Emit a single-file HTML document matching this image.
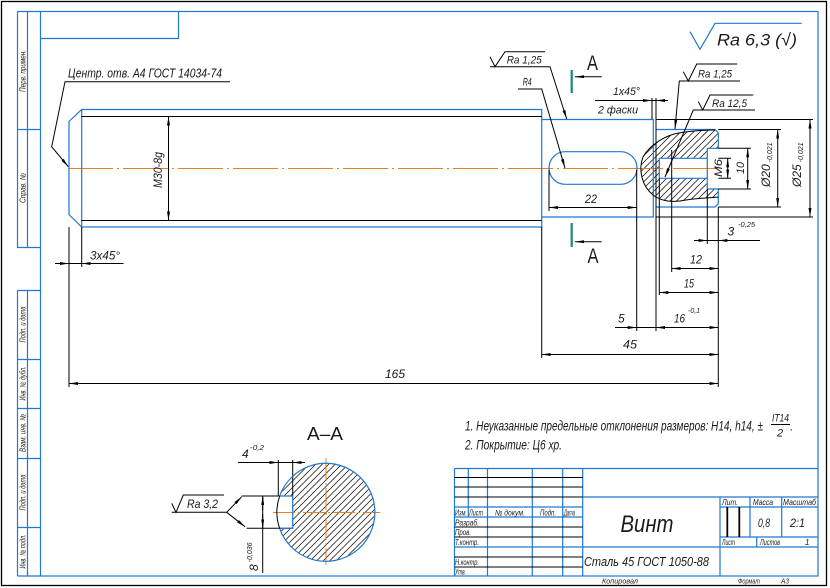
<!DOCTYPE html>
<html><head><meta charset="utf-8"><style>
html,body{margin:0;padding:0;background:#fff}
svg{display:block}
.b{stroke:#1f78d2;fill:none;stroke-width:1.2}
.k{stroke:#000;fill:none;stroke-width:1}
.o{stroke:#e8821e;fill:none;stroke-width:1}
text{font-family:"Liberation Sans",sans-serif;font-style:italic;fill:#1a1a1a}
.u{font-style:normal}
</style></head><body>
<svg width="830" height="588" viewBox="0 0 830 588" xmlns="http://www.w3.org/2000/svg">
<defs>
<marker id="a" viewBox="0 0 9 3" refX="9" refY="1.5" markerWidth="9" markerHeight="3" markerUnits="userSpaceOnUse" orient="auto-start-reverse"><path d="M0,0 L9,1.5 L0,3z" fill="#000"/></marker>
<pattern id="h" width="6.5" height="6.5" patternUnits="userSpaceOnUse"><path d="M-1,1 L1,-1 M0,6.5 L6.5,0 M5.5,7.5 L7.5,5.5" stroke="#000" stroke-width="0.7"/></pattern>
</defs>

<!-- frames -->
<rect x="1.5" y="1.5" width="825" height="584" fill="none" stroke="#000" stroke-width="1.3"/>
<rect x="40.5" y="11.5" width="777.5" height="564.5" class="b"/>
<path class="b" d="M40.5,38.5 H178.5 V11.5"/>
<path class="b" d="M17.5,11.5 V247.5 H40.5 M27.5,11.5 V247.5 M17.5,11.5 H40.5 M17.5,129.5 H40.5"/>
<path class="b" d="M17.5,290.5 V576 M27.5,290.5 V576 M17.5,290.5 H40.5 M17.5,359.5 H40.5 M17.5,408.5 H40.5 M17.5,458.5 H40.5 M17.5,527.5 H40.5 M17.5,576 H40.5"/>
<g font-size="8">
<text transform="translate(25.5,71) rotate(-90)" text-anchor="middle" textLength="42" lengthAdjust="spacingAndGlyphs">Перв. примен.</text>
<text transform="translate(25.5,188) rotate(-90)" text-anchor="middle" textLength="30" lengthAdjust="spacingAndGlyphs">Справ. №</text>
<text transform="translate(25.5,324.5) rotate(-90)" text-anchor="middle" textLength="36" lengthAdjust="spacingAndGlyphs">Подп. и дата</text>
<text transform="translate(25.5,383.5) rotate(-90)" text-anchor="middle" textLength="34" lengthAdjust="spacingAndGlyphs">Инв. № дубл.</text>
<text transform="translate(25.5,433) rotate(-90)" text-anchor="middle" textLength="38" lengthAdjust="spacingAndGlyphs">Взам. инв. №</text>
<text transform="translate(25.5,492.5) rotate(-90)" text-anchor="middle" textLength="36" lengthAdjust="spacingAndGlyphs">Подп. и дата</text>
<text transform="translate(25.5,551.5) rotate(-90)" text-anchor="middle" textLength="34" lengthAdjust="spacingAndGlyphs">Инв. № подл.</text>
</g>

<!-- hatch areas -->
<path d="M680,132.7 C665,135 650,145 643,157 C638,170 642,186 653,195 C661,201 672,203 686,200 C698,198 710,198 718.3,197 V189 H707.3 V178.3 H659.3 V158.3 H707.3 V148.3 H718.3 V133 L715,130 C703,130 692,131 680,132.7Z" fill="url(#h)"/>
<path d="M279.7,496 A49,49 0 1 1 279.7,528.6 H292.7 V496 Z" fill="url(#h)"/>

<!-- centerlines -->
<line class="o" x1="65" y1="168.5" x2="722" y2="168.5" stroke-dasharray="45 4 2 4" stroke-dashoffset="-3"/>
<path class="o" d="M273,512.5 H380 M326,458 V565" stroke-dasharray="22 3 2 3"/>

<!-- shaft contour -->
<path class="b" d="M81.7,109.5 H541.7 V119.5 H653.3 V217 H541.7 V227 H81.7 L69,214.5 V121.5 Z M81.7,109.5 V227 M541.7,109.5 V227"/>
<path class="b" d="M656,129.5 H715 L718.3,132.8 V148.3 H707.3 V189 H718.3 V203.7 L715,207 H656 M659.3,158.3 H707.3 M659.3,178.3 H707.3 M659.3,158.3 V178.3"/>
<path class="k" d="M81.7,116.5 H541.7 M81.7,220.5 H541.7"/>
<rect class="b" x="549" y="151.7" width="88" height="32.6" rx="16.3" stroke-width="1"/>
<path class="k" stroke-width="0.8" d="M680,132.7 C665,135 650,145 643,157 C638,170 642,186 653,195 C661,201 672,203 686,200 C698,198 710,198 718.3,197 M680,132.7 C692,131 703,130 715,130"/>

<!-- extension lines -->
<path class="k" d="M69,227 V387 M81.7,227 V267 M541.7,227 V358 M549,170 V211 M636.7,170 V331 M652,98 V119 M656,98 V331 M659.3,178.3 V295 M671.7,150 V272 M707.3,189 V244 M718.3,207 V387 M656,119.5 H813 M656,217 H813 M718.3,129.5 H781 M718.3,207 H781 M718.3,148.3 H751 M718.3,189 H751 M718.3,158.3 H731 M718.3,178.3 H731"/>

<!-- dimension lines -->
<g class="k">
<line x1="168.5" y1="116.5" x2="168.5" y2="220.5" marker-start="url(#a)" marker-end="url(#a)"/>
<path d="M55,263.5 H123.5"/><path d="M55,263.5 H69" marker-end="url(#a)"/><path d="M100,263.5 H81.7" marker-end="url(#a)"/>
<line x1="69" y1="383.5" x2="718.3" y2="383.5" marker-start="url(#a)" marker-end="url(#a)"/>
<line x1="541.7" y1="354.5" x2="718.3" y2="354.5" marker-start="url(#a)" marker-end="url(#a)"/>
<path d="M615,327.5 H718.3"/><path d="M615,327.5 H636.7" marker-end="url(#a)"/>
<line x1="656" y1="327.5" x2="718.3" y2="327.5" marker-start="url(#a)" marker-end="url(#a)"/>
<line x1="659.3" y1="292.5" x2="718.3" y2="292.5" marker-start="url(#a)" marker-end="url(#a)"/>
<line x1="671.7" y1="268.5" x2="718.3" y2="268.5" marker-start="url(#a)" marker-end="url(#a)"/>
<path d="M694,240.5 H760"/><path d="M694,240.5 H707.3" marker-end="url(#a)"/><path d="M760,240.5 H718.3" marker-end="url(#a)"/>
<line x1="549" y1="207.5" x2="636.7" y2="207.5" marker-start="url(#a)" marker-end="url(#a)"/>
<line x1="777.7" y1="129.5" x2="777.7" y2="207" marker-start="url(#a)" marker-end="url(#a)"/>
<line x1="810" y1="119.5" x2="810" y2="217" marker-start="url(#a)" marker-end="url(#a)"/>
<line x1="747.7" y1="148.3" x2="747.7" y2="189" marker-start="url(#a)" marker-end="url(#a)"/>
<line x1="727.7" y1="158.3" x2="727.7" y2="178.3" marker-start="url(#a)" marker-end="url(#a)"/>
<path d="M595,100.5 H668"/><path d="M640,100.5 H652" marker-end="url(#a)"/><path d="M668,100.5 H656" marker-end="url(#a)"/>
<path d="M238,462.5 H305"/><path d="M265,462.5 H278.3" marker-end="url(#a)"/><path d="M305,462.5 H292.7" marker-end="url(#a)"/>
<path d="M262.7,496 V573"/><path d="M262.7,510 V496" marker-end="url(#a)"/><path d="M262.7,514 V528.3" marker-end="url(#a)"/>
<path d="M278.3,460 V496 M292.7,460 V496 M241.7,496 H292.7 M246.7,528.3 H292.7"/>
<!-- leaders -->
<path d="M230,81.7 H65 L51.7,146.7 L68.3,166.7" marker-end="url(#a)"/>
<path d="M490,66.7 H550 L566.7,119" marker-end="url(#a)"/>
<path d="M518,89 H541.7 L565,168" marker-end="url(#a)"/>
<path d="M740,81 H679.3 L675,129" marker-end="url(#a)"/>
<path d="M755,110 H693.3 L665,177" marker-end="url(#a)"/>
<path d="M171.7,512.3 H226.7 L241.7,496.7" marker-end="url(#a)"/>
<path d="M226.7,512.3 L245,526.7" marker-end="url(#a)"/>
<!-- roughness signs -->
<path d="M490,56.7 L495,66.7 L505,51.7 H545"/>
<path d="M683.3,71.7 L688.3,81 L696.7,64 H737.3"/>
<path d="M698.3,101.7 L702.7,110 L710,95 H753.3"/>
<path d="M171.7,503.3 L176,512.3 L183.3,495 H224"/>
<!-- section arrows -->
<path d="M601.7,76.7 H575" marker-end="url(#a)"/>
<path d="M601.7,241.7 H575" marker-end="url(#a)"/>
</g>
<path class="b" d="M690,31.7 L700,49.3 L715,23.3 H801.7"/>
<path d="M571.7,70 V93 M571.7,223 V247" stroke="#16897c" stroke-width="2.2"/>

<!-- section A-A -->
<path class="b" d="M279.7,496 A49,49 0 1 1 279.7,528.6 M279.7,496 H292.7 V528.3 H279.7"/>
<path class="k" d="M279.7,496 A49,49 0 0 0 279.7,528.6"/>

<!-- texts -->
<text x="68" y="77.5" font-size="13" textLength="154" lengthAdjust="spacingAndGlyphs">Центр. отв. А4 ГОСТ 14034-74</text>
<text x="90" y="259.5" font-size="12" textLength="30" lengthAdjust="spacingAndGlyphs">3x45°</text>
<text transform="translate(162,170) rotate(-90)" text-anchor="middle" font-size="12" textLength="36" lengthAdjust="spacingAndGlyphs">M30-8g</text>
<text x="506.7" y="63.5" font-size="11" textLength="35" lengthAdjust="spacingAndGlyphs">Ra 1,25</text>
<text x="522.7" y="85.5" font-size="11" textLength="9" lengthAdjust="spacingAndGlyphs">R4</text>
<text class="u" x="592.5" y="70" font-size="21" text-anchor="middle" textLength="11" lengthAdjust="spacingAndGlyphs">А</text>
<text class="u" x="593" y="263" font-size="21" text-anchor="middle" textLength="11" lengthAdjust="spacingAndGlyphs">А</text>
<text x="613" y="95" font-size="11" textLength="27" lengthAdjust="spacingAndGlyphs">1x45°</text>
<text x="598" y="113.5" font-size="11" textLength="40" lengthAdjust="spacingAndGlyphs">2 фаски</text>
<text x="698" y="77.5" font-size="11" textLength="34" lengthAdjust="spacingAndGlyphs">Ra 1,25</text>
<text x="712" y="107" font-size="11" textLength="35" lengthAdjust="spacingAndGlyphs">Ra 12,5</text>
<text x="717" y="45.5" font-size="17" textLength="80" lengthAdjust="spacingAndGlyphs">Ra 6,3 (√)</text>
<text x="585" y="203" font-size="12" textLength="12" lengthAdjust="spacingAndGlyphs">22</text>
<text transform="translate(722,168) rotate(-90)" text-anchor="middle" font-size="11" textLength="18" lengthAdjust="spacingAndGlyphs">M6</text>
<text transform="translate(744,168) rotate(-90)" text-anchor="middle" font-size="11" textLength="12" lengthAdjust="spacingAndGlyphs">10</text>
<text transform="translate(770,187) rotate(-90)" font-size="12">Ø20<tspan font-size="7" dx="2" dy="2">-0,021</tspan></text>
<text transform="translate(801,187) rotate(-90)" font-size="12">Ø25<tspan font-size="7" dx="2" dy="2">-0,021</tspan></text>
<text x="618" y="322.5" font-size="12">5</text>
<text x="674" y="322.5" font-size="12" textLength="11" lengthAdjust="spacingAndGlyphs">16</text>
<text x="688" y="313" font-size="7" textLength="12" lengthAdjust="spacingAndGlyphs">-0,1</text>
<text x="684" y="287.5" font-size="12" textLength="10" lengthAdjust="spacingAndGlyphs">15</text>
<text x="690" y="263.5" font-size="12" textLength="12" lengthAdjust="spacingAndGlyphs">12</text>
<text x="727.5" y="235.5" font-size="12">3</text>
<text x="738" y="227" font-size="7" textLength="17" lengthAdjust="spacingAndGlyphs">-0,25</text>
<text x="623" y="348.5" font-size="12" textLength="14" lengthAdjust="spacingAndGlyphs">45</text>
<text x="385" y="378" font-size="12" textLength="20" lengthAdjust="spacingAndGlyphs">165</text>

<text class="u" x="325" y="440" font-size="18" text-anchor="middle" textLength="36" lengthAdjust="spacingAndGlyphs">А–А</text>
<text x="242" y="458" font-size="12">4</text>
<text x="250" y="450" font-size="7" textLength="14" lengthAdjust="spacingAndGlyphs">-0,2</text>
<text transform="translate(258,571) rotate(-90)" font-size="12">8<tspan font-size="7" dx="2" dy="-6">-0,036</tspan></text>
<text x="187" y="508" font-size="12" textLength="31" lengthAdjust="spacingAndGlyphs">Ra 3,2</text>

<text x="465" y="430.5" font-size="14" textLength="298" lengthAdjust="spacingAndGlyphs">1. Неуказанные предельные отклонения размеров: H14, h14, ±</text>
<text x="772" y="421.5" font-size="11" textLength="17" lengthAdjust="spacingAndGlyphs">IT14</text>
<line x1="771" y1="424.5" x2="790" y2="424.5" stroke="#000" stroke-width="1"/>
<text x="777" y="436.5" font-size="11">2</text>
<text x="790" y="430.5" font-size="12">.</text>
<text x="465" y="449.5" font-size="14" textLength="97" lengthAdjust="spacingAndGlyphs">2. Покрытие: Ц6 хр.</text>

<!-- title block -->
<path class="b" d="M454.5,468.5 H818 M454.5,468.5 V576 M468.3,468.5 V517 M487.5,468.5 V576 M532.3,468.5 V576 M562.7,468.5 V576 M582.7,468.5 V576 M454.5,507 H582.7 M454.5,517 H582.7 M454.5,547 H818 M582.7,497 H818 M720,497 V576 M720,507 H818 M720,537 H818 M750,497 V537 M781.7,497 V537 M756.7,537 V547"/>
<path class="k" d="M454.5,477.5 H582.7 M454.5,487 H582.7 M454.5,497 H582.7 M454.5,527 H582.7 M454.5,537 H582.7 M454.5,557 H582.7 M454.5,567 H582.7"/>
<path d="M727.3,507 V537 M739.3,507 V537" stroke="#000" stroke-width="1.8"/>
<g font-size="8">
<text x="455" y="515.5" textLength="12" lengthAdjust="spacingAndGlyphs">Изм.</text>
<text x="469" y="515.5" textLength="14" lengthAdjust="spacingAndGlyphs">Лист</text>
<text x="495" y="515.5" textLength="30" lengthAdjust="spacingAndGlyphs">№ докум.</text>
<text x="540" y="515.5" textLength="16" lengthAdjust="spacingAndGlyphs">Подп.</text>
<text x="564" y="515.5" textLength="11" lengthAdjust="spacingAndGlyphs">Дата</text>
<text x="455" y="525.5" textLength="24" lengthAdjust="spacingAndGlyphs">Разраб.</text>
<text x="455" y="535" textLength="16" lengthAdjust="spacingAndGlyphs">Пров.</text>
<text x="455" y="545" textLength="24" lengthAdjust="spacingAndGlyphs">Т.контр.</text>
<text x="455" y="565" textLength="24" lengthAdjust="spacingAndGlyphs">Н.контр.</text>
<text x="455" y="574.5" textLength="11" lengthAdjust="spacingAndGlyphs">Утв.</text>
<text x="722" y="505" textLength="16" lengthAdjust="spacingAndGlyphs">Лит.</text>
<text x="753" y="505" textLength="20" lengthAdjust="spacingAndGlyphs">Масса</text>
<text x="783" y="505" textLength="33" lengthAdjust="spacingAndGlyphs">Масштаб</text>
<text x="722" y="545" textLength="13" lengthAdjust="spacingAndGlyphs">Лист</text>
<text x="760" y="545" textLength="20" lengthAdjust="spacingAndGlyphs">Листов</text>
<text x="805" y="545">1</text>
<text x="602" y="583.5" font-size="7" textLength="36" lengthAdjust="spacingAndGlyphs">Копировал</text>
<text x="738" y="583.5" font-size="7" textLength="22" lengthAdjust="spacingAndGlyphs">Формат</text>
<text x="781" y="583.5" font-size="7" textLength="8" lengthAdjust="spacingAndGlyphs">А3</text>
</g>
<text x="647" y="532" font-size="24" text-anchor="middle" textLength="53" lengthAdjust="spacingAndGlyphs">Винт</text>
<text x="584" y="566" font-size="13" textLength="125" lengthAdjust="spacingAndGlyphs">Сталь 45 ГОСТ 1050-88</text>
<text x="758" y="527" font-size="12" textLength="12" lengthAdjust="spacingAndGlyphs">0,8</text>
<text x="790" y="527" font-size="12" textLength="15" lengthAdjust="spacingAndGlyphs">2:1</text>
</svg>
</body></html>
